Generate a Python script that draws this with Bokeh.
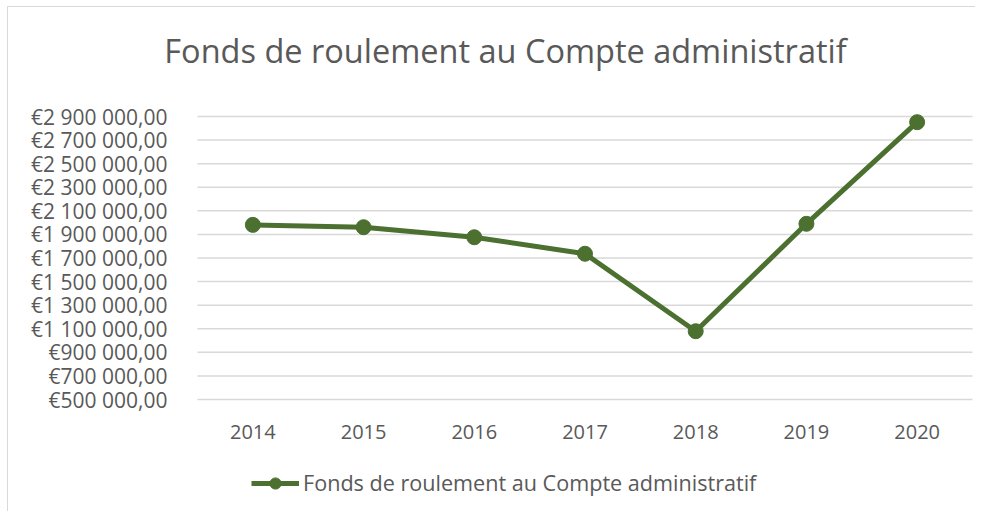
from bokeh.plotting import figure
from bokeh.models import Range1d, Legend, LegendItem
from bokeh.core.properties import value
from bokeh.embed import file_html
from bokeh.resources import INLINE

years = ["2014", "2015", "2016", "2017", "2018", "2019", "2020"]
values = [1981000, 1961000, 1876000, 1736000, 1079000, 1990000, 2852000]
y_ticks = [500000, 700000, 900000, 1100000, 1300000, 1500000, 1700000,
           1900000, 2100000, 2300000, 2500000, 2700000, 2900000]
title_text = "Fonds de roulement au Compte administratif"
series_name = "Fonds de roulement au Compte administratif"


def euro(v):
    return "\u20ac" + f"{v:,}".replace(",", " ") + ",00"


y_labels = [euro(t) for t in y_ticks]
x_idx = list(range(len(years)))

GREEN = "#4b7030"
TEXT = "#595959"
GRID = "#d9d9d9"
FONT = "Open Sans"

# layout (screen pixels); the frame fills the whole figure
FIG_X, FIG_Y = 8, 7
W, H = 968, 505
PLOT_LEFT, PLOT_RIGHT = 197, 972
GRID_TOP, GRID_BOTTOM = 116, 399
TITLE_CX, TITLE_CY = 505, 50
n = len(years)
cat_px = (PLOT_RIGHT - PLOT_LEFT) / n
Y_MIN, Y_MAX = y_ticks[0], y_ticks[-1]
upp = (Y_MAX - Y_MIN) / (GRID_BOTTOM - GRID_TOP)
x_start = -0.5 - (PLOT_LEFT - FIG_X) / cat_px
x_end = n - 0.5 + (FIG_X + W - PLOT_RIGHT) / cat_px
y_start = Y_MIN - (FIG_Y + H - GRID_BOTTOM) * upp
y_end = Y_MAX + (GRID_TOP - FIG_Y) * upp

p = figure(width=W, height=H, output_backend="svg", toolbar_location=None, title=None,
           x_range=Range1d(x_start, x_end), y_range=Range1d(y_start, y_end),
           min_border=0)
p.styles = {"margin-left": "7px", "margin-top": "6px",
            "border-left": "1px solid #d9d9d9", "border-top": "1px solid #d9d9d9"}
p.outline_line_color = None
p.xaxis.visible = False
p.yaxis.visible = False
p.xgrid.visible = False
p.ygrid.visible = False

# horizontal gridlines
p.segment(x0=[-0.5] * len(y_ticks), x1=[n - 0.5] * len(y_ticks), y0=y_ticks, y1=y_ticks,
          line_color=GRID, line_width=1.5)

# y tick labels
p.text(x=[-0.5 - 30 / cat_px] * len(y_ticks), y=y_ticks, text=y_labels,
       text_align="right", text_baseline="middle", text_font=value(FONT),
       text_font_size="21px", text_color=TEXT)

# x category labels
p.text(x=x_idx, y=[Y_MIN - 32 * upp] * n, text=years, text_align="center",
       text_baseline="middle", text_font=value(FONT), text_font_size="20px",
       text_color=TEXT)

# title
p.text(x=[-0.5 + (TITLE_CX - PLOT_LEFT) / cat_px], y=[Y_MAX + (GRID_TOP - TITLE_CY) * upp],
       text=[title_text], text_align="center", text_baseline="middle",
       text_font=value(FONT), text_font_size="32.5px", text_color=TEXT)

ln = p.line(x_idx, values, line_color=GREEN, line_width=5)
sc = p.scatter(x_idx, values, size=15, fill_color=GREEN, line_color=GREEN)

legend = Legend(items=[LegendItem(label=series_name, renderers=[ln, sc])],
                location=(251 - FIG_X, FIG_Y + H - 497), orientation="horizontal",
                padding=0, margin=0, spacing=0,
                glyph_width=48, glyph_height=28, label_height=28, label_standoff=4,
                label_text_font=FONT, label_text_font_size="21.6px", label_text_color=TEXT,
                border_line_color=None, background_fill_alpha=0)
p.add_layout(legend)

open("out.html", "w").write(file_html(p, INLINE))
